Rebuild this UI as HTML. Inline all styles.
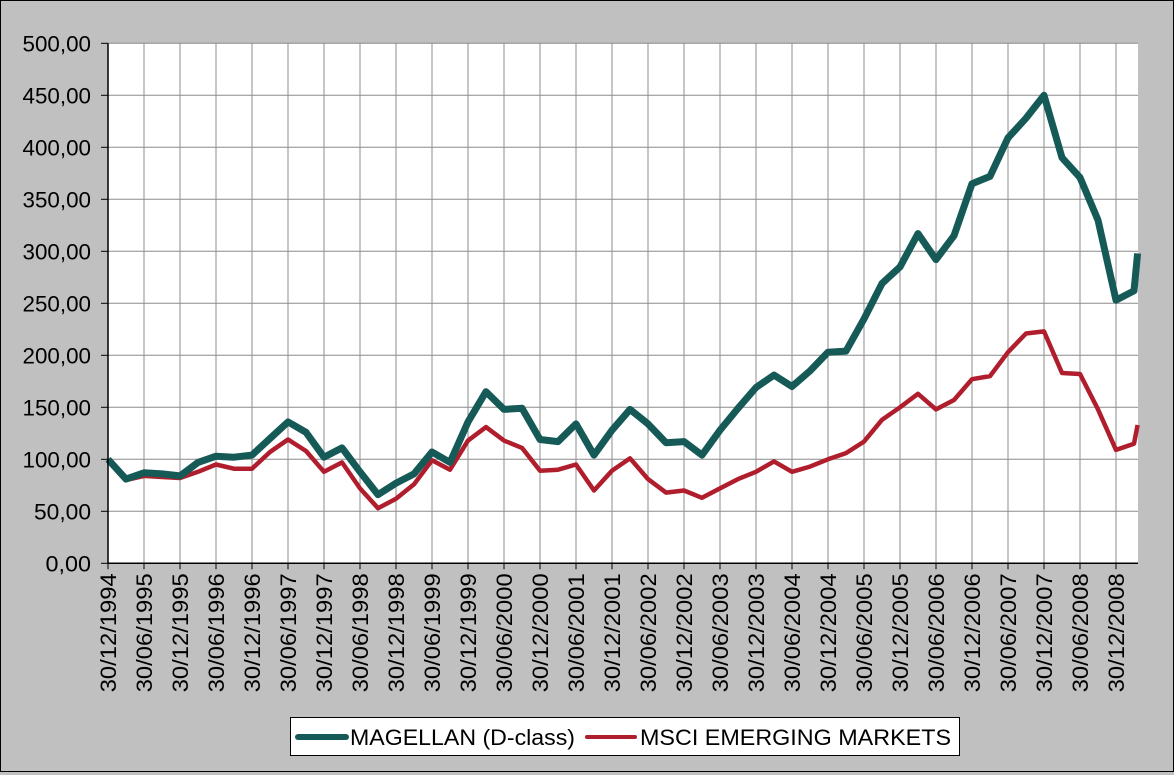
<!DOCTYPE html>
<html><head><meta charset="utf-8"><style>
html,body{margin:0;padding:0;background:#c0c0c0;}
svg{display:block;font-family:"Liberation Sans",Arial,sans-serif;}
</style></head><body>
<svg id="chart" width="1174" height="775" viewBox="0 0 1174 775">
<rect x="0" y="0" width="1174" height="775" fill="#c0c0c0"/>
<rect x="0.5" y="0.5" width="1173" height="771" fill="none" stroke="#000" stroke-width="1"/>
<rect x="108" y="43" width="1030" height="520" fill="#fff"/>
<g id="grid"></g>
<g id="series"></g>
<g id="axes"></g>
<g>
<rect x="290.5" y="717.5" width="669" height="38" fill="#fff" stroke="#000"/>
<line x1="298" y1="737" x2="346" y2="737" stroke="#165a58" stroke-width="6" stroke-linecap="round"/>
<text x="350" y="745" font-size="22" textLength="225" lengthAdjust="spacingAndGlyphs">MAGELLAN (D-class)</text>
<line x1="587" y1="737" x2="635" y2="737" stroke="#b01e2d" stroke-width="4" stroke-linecap="round"/>
<text x="640" y="745" font-size="22" textLength="311" lengthAdjust="spacingAndGlyphs">MSCI EMERGING MARKETS</text>
</g>
</svg>
<script>
const quarters = [0,1,2,3,4,5,6,7,8,9,10,11,12,13,14,15,16,17,18,19,20,21,22,23,24,25,26,27,28,29,30,31,32,33,34,35,36,37,38,39,40,41,42,43,44,45,46,47,48,49,50,51,52,53,54,55,56,57,57.2];
const magellan = [100,81,87,86,84,97,103,102,104,120,136,126,102,111,88,66,77,86,107,97,136,165,148,149,119,117,134,104,128,148,134,116,117,104,128,149,169,181,170,185,203,204,235,269,285,317,292,315,365,372,409,428,450,390,371,330,253,262,298];
const msci = [100,80,84,83,82,88,95,91,91,107,119,108,88,97,72,53,62,76,99,90,118,131,118,111,89,90,95,70,89,101,81,68,70,63,72,81,88,98,88,93,100,106,117,138,150,163,148,157,177,180,203,221,223,183,182,148,109,115,133];
const yTicks = [0,50,100,150,200,250,300,350,400,450,500];
const xTickLabels = ["30/12/1994","30/06/1995","30/12/1995","30/06/1996","30/12/1996","30/06/1997","30/12/1997","30/06/1998","30/12/1998","30/06/1999","30/12/1999","30/06/2000","30/12/2000","30/06/2001","30/12/2001","30/06/2002","30/12/2002","30/06/2003","30/12/2003","30/06/2004","30/12/2004","30/06/2005","30/12/2005","30/06/2006","30/12/2006","30/06/2007","30/12/2007","30/06/2008","30/12/2008"];

const NS="http://www.w3.org/2000/svg";
const X0=108, X1=1138, Y0=563.3, Y1=43.3;
function xs(q){return X0+q*18;}
function ys(v){return Y0+(v-0)*(Y1-Y0)/500;}
function mk(tag,attrs,parent){const e=document.createElementNS(NS,tag);for(const k in attrs)e.setAttribute(k,attrs[k]);parent.appendChild(e);return e;}
const grid=document.getElementById('grid'), axes=document.getElementById('axes'), series=document.getElementById('series');

yTicks.forEach(v=>{
  const y=ys(v);
  if(v>0){const l=mk('line',{x1:X0,x2:X1,y1:y,y2:y,stroke:'#8c8c8c','stroke-width':1},grid);
  
  }
  const t=mk('line',{x1:X0-7,x2:X0,y1:y,y2:y,stroke:'#000'},axes);
  
  
  const s=v.toFixed(2).replace('.',',');
  const tx=mk('text',{x:X0-17,y:y+8,'font-size':22,'text-anchor':'end',fill:'#000',textLength:s.length*11.5-0.5,lengthAdjust:'spacingAndGlyphs'},axes);
  tx.textContent=s;
  
  
});
xTickLabels.forEach((lab,i)=>{
  const x=xs(i*2);
  if(i>0){const l=mk('line',{x1:x,x2:x,y1:Y1,y2:Y0,stroke:'#8c8c8c','stroke-width':1},grid);
  
  }
  const t=mk('line',{x1:x,x2:x,y1:Y0,y2:Y0+6,stroke:'#000'},axes);
  
  
  const tx=mk('text',{x:0,y:0,'font-size':22,'text-anchor':'end',fill:'#000',textLength:119,lengthAdjust:'spacingAndGlyphs',transform:`translate(${x+8},${Y0+10}) rotate(-90)`},axes);
  tx.textContent=lab;
  
  
});
const ax=mk('path',{d:`M${X0},${Y1} V${Y0} H${X1}`,fill:'none',stroke:'#000','stroke-width':1.5},axes);



function line(vals,color,w,name){
  const d=vals.map((v,i)=>(i?'L':'M')+xs(quarters[i]).toFixed(1)+','+ys(v).toFixed(1)).join(' ');
  const p=mk('path',{d:d,fill:'none',stroke:color,'stroke-width':w,'stroke-linejoin':'round'},series);
  
  
}
line(msci,'#b01e2d',4.5,'msci-line');
line(magellan,'#165a58',7,'magellan-line');
</script>
</body></html>
